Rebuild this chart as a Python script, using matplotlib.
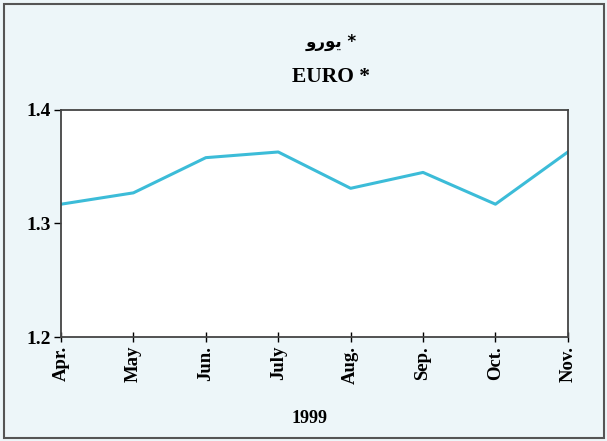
import matplotlib
matplotlib.use("Agg")
import matplotlib.pyplot as plt
from matplotlib.patches import Rectangle

# data
months = ["Apr.", "May", "Jun.", "July", "Aug.", "Sep.", "Oct.", "Nov."]
euro = [1.317, 1.327, 1.358, 1.363, 1.331, 1.345, 1.317, 1.363]
y_ticks = [1.2, 1.3, 1.4]

# Arabic title pre-shaped (presentation forms, visual order)
title_ar = "\uFEED\uFEAD\uFEEE\uFEF3 *"
title_en = "EURO *"
xlabel = "1999"

serif = ["Liberation Serif", "DejaVu Serif"]
bg = "#edf6f9"

fig = plt.figure(figsize=(6.07, 4.41), dpi=100)
fig.patch.set_facecolor(bg)

# outer frame
fig.patches.append(Rectangle((0.006, 0.006), 0.989, 0.986, transform=fig.transFigure,
                             fill=False, edgecolor="#555555", lw=1.5))

ax = fig.add_axes([0.1005, 0.2358, 0.835, 0.5148])
ax.set_facecolor("white")
x = list(range(len(months)))
ax.plot(x, euro, color="#3cbcd8", lw=2.2)

ax.set_xlim(0, len(months) - 1)
ax.set_ylim(1.2, 1.4)
ax.set_yticks(y_ticks)
ax.set_yticklabels([f"{v:.1f}" for v in y_ticks], fontfamily=serif,
                   fontweight="bold", fontsize=14)
ax.set_xticks(x)
ax.set_xticklabels(months, rotation=90, fontfamily=serif,
                   fontweight="bold", fontsize=13.5)
ax.tick_params(axis="x", direction="inout", length=7, width=1, pad=3)
ax.tick_params(axis="y", direction="out", length=5, width=1, pad=2)
for s in ax.spines.values():
    s.set_color("#444444")
    s.set_linewidth(1.3)

fig.text(0.545, 0.905, title_ar, ha="center", va="center",
         family=["DejaVu Sans"], fontweight="bold", fontsize=12)
fig.text(0.545, 0.825, title_en, ha="center", va="center",
         family=serif, fontweight="bold", fontsize=15.5)
fig.text(0.51, 0.052, xlabel, ha="center", va="center",
         family=serif, fontweight="bold", fontsize=13)

fig.savefig("out.png", dpi=100, facecolor=bg)
